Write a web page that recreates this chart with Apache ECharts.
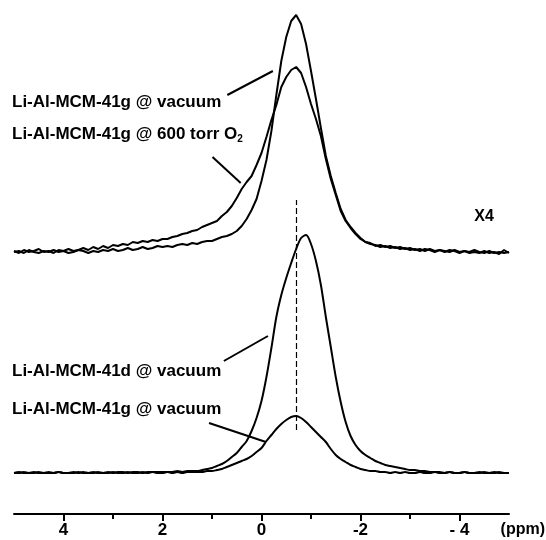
<!DOCTYPE html>
<html>
<head>
<meta charset="utf-8">
<script src="https://cdn.jsdelivr.net/npm/echarts@6/dist/echarts.min.js"></script>
<style>
  html, body { margin: 0; padding: 0; background: #fff; }
  #main { width: 546px; height: 540px; }
</style>
</head>
<body>
<div id="main"></div>
<script>
// chemical shift grid (ppm), read left to right
var ppm = [5.0, 4.9, 4.8, 4.7, 4.6, 4.5, 4.4, 4.3, 4.2, 4.1,
  4.0, 3.9, 3.8, 3.7, 3.6, 3.5, 3.4, 3.3, 3.2, 3.1,
  3.0, 2.9, 2.8, 2.7, 2.6, 2.5, 2.4, 2.3, 2.2, 2.1,
  2.0, 1.9, 1.8, 1.7, 1.6, 1.5, 1.4, 1.3, 1.2, 1.1,
  1.0, 0.9, 0.8, 0.7, 0.6, 0.5, 0.4, 0.3, 0.2, 0.1,
  0.0, -0.1, -0.2, -0.3, -0.4, -0.5, -0.6, -0.7, -0.8, -0.9,
  -1.0, -1.1, -1.2, -1.3, -1.4, -1.5, -1.6, -1.7, -1.8, -1.9,
  -2.0, -2.1, -2.2, -2.3, -2.4, -2.5, -2.6, -2.7, -2.8, -2.9,
  -3.0, -3.1, -3.2, -3.3, -3.4, -3.5, -3.6, -3.7, -3.8, -3.9,
  -4.0, -4.1, -4.2, -4.3, -4.4, -4.5, -4.6, -4.7, -4.8, -4.9, -5.0];

// upper pair (x4), intensities above their own baseline
var gVacuumX4 = [1, 2, 0, 3, 1, 0, 2, 1, 3, 1,
  2, 0, 1, 3, 2, 0, 2, 1, 3, 2,
  4, 2, 3, 5, 3, 4, 6, 4, 5, 7,
  6, 7, 6, 8, 9, 8, 10, 9, 11, 12,
  12, 14, 16, 17, 19, 22, 27, 34, 43, 54,
  72, 93, 122, 158, 192, 216, 232, 238, 229, 209,
  182, 154, 125, 97, 77, 60, 44, 33, 26, 20,
  15, 11, 9, 8, 6, 7, 5, 6, 4, 5,
  3, 4, 2, 4, 3, 1, 3, 2, 1, 3,
  1, 2, 0, 1, 0, 2, 0, 1, -1, 3, 0];
var gO2X4 = [2, 0, 3, 1, 2, 4, 1, 2, 0, 3,
  2, 4, 2, 3, 5, 3, 6, 4, 7, 5,
  8, 7, 9, 8, 11, 10, 12, 11, 13, 12,
  14, 14, 16, 17, 19, 20, 22, 23, 26, 28,
  30, 32, 37, 41, 47, 55, 64, 71, 77, 88,
  100, 116, 133, 148, 166, 176, 183, 186, 180, 166,
  149, 134, 117, 94, 74, 58, 42, 32, 25, 19,
  14, 11, 10, 7, 8, 6, 7, 5, 6, 4,
  5, 3, 4, 2, 4, 2, 3, 1, 3, 2,
  0, 2, 1, 3, 1, 0, 2, 0, 1, 0, 1];

// lower pair
var dVacuum = [0, 1, 0, 0, 1, 0, 0, 1, 0, 1,
  0, 0, 1, 0, 1, 0, 0, 1, 0, 1,
  0, 1, 1, 0, 1, 1, 0, 1, 1, 1,
  1, 1, 1, 2, 1, 2, 2, 2, 3, 4,
  5, 7, 9, 12, 16, 20, 26, 32, 42, 55,
  72, 96, 125, 156, 178, 195, 210, 224, 235, 238,
  229, 212, 188, 156, 126, 96, 71, 51, 37, 28,
  22, 18, 15, 12, 10, 8, 7, 6, 5, 4,
  3, 3, 2, 2, 1, 1, 1, 0, 1, 0,
  0, 1, 0, 0, 1, 0, 0, 1, 0, 0, 0];
var gVacuum = [0, 0, 1, 0, 0, 1, 0, 0, 0, 1,
  0, 0, 0, 1, 0, 0, 1, 0, 0, 0,
  1, 0, 0, 1, 0, 0, 1, 0, 1, 0,
  0, 1, 0, 1, 0, 1, 1, 1, 1, 2,
  2, 3, 4, 6, 8, 10, 12, 14, 17, 21,
  25, 32, 38, 44, 49, 53, 56, 57, 55, 51,
  46, 41, 36, 31, 24, 18, 14, 11, 8, 6,
  4, 3, 2, 2, 1, 1, 0, 1, 0, 1,
  0, 0, 1, 0, 0, 1, 0, 0, 1, 0,
  0, 1, 0, 0, 0, 1, 0, 0, 1, 0, 0];

var upperOffset = 220;   // vertical shift of the x4 pair

var majorTicks = [4, 2, 0, -2, -4];
var majorLabels = ['4', '2', '0', '-2', '- 4'];
var minorTicks = [3, 1, -1, -3];

var peakRef = -0.71;     // dashed reference line

function pairs(vals, off) {
  return ppm.map(function (x, i) { return [x, vals[i] + off]; });
}

var font = '"Liberation Sans", Arial, sans-serif';
var chart = echarts.init(document.getElementById('main'), null, { renderer: 'canvas' });

var lineBase = {
  type: 'line',
  showSymbol: false,
  symbol: 'none',
  silent: true,
  lineStyle: { color: '#000', width: 2 }
};

var option = {
  animation: false,
  backgroundColor: '#fff',
  grid: { left: 14, right: 37, top: 13, bottom: 26 },
  xAxis: [{
    type: 'value',
    inverse: true,
    min: -5,
    max: 5,
    position: 'bottom',
    offset: 0,
    splitLine: { show: false },
    axisLine: { onZero: false, lineStyle: { color: '#000', width: 2 } },
    axisTick: { customValues: majorTicks, length: 7, lineStyle: { color: '#000', width: 2 } },
    axisLabel: {
      customValues: majorTicks,
      margin: 8,
      color: '#000',
      fontWeight: 'bold',
      fontSize: 17,
      fontFamily: font,
      formatter: function (v) { return majorLabels[majorTicks.indexOf(v)]; }
    }
  }, {
    type: 'value',
    inverse: true,
    min: -5,
    max: 5,
    position: 'bottom',
    offset: 0,
    splitLine: { show: false },
    axisLine: { show: false, onZero: false },
    axisTick: { customValues: minorTicks, length: 5, lineStyle: { color: '#000', width: 2 } },
    axisLabel: { show: false }
  }],
  yAxis: { type: 'value', min: -41, max: 460, show: false },
  series: [
    Object.assign({}, lineBase, {
      name: 'Li-Al-MCM-41g @ vacuum (x4)',
      data: pairs(gVacuumX4, upperOffset),
      markLine: {
        silent: true,
        symbol: 'none',
        label: { show: false },
        lineStyle: { color: '#000', width: 2, type: 'solid' },
        data: [
          [{ coord: [0.69, 378] }, { coord: [-0.23, 402] }],
          [{ coord: [0.99, 316] }, { coord: [0.42, 290] }],
          [{ coord: [0.76, 112] }, { coord: [-0.13, 137] }],
          [{ coord: [1.06, 50] }, { coord: [-0.09, 31] }],
          [{ coord: [peakRef, 43], lineStyle: { type: [6, 3], width: 1.2 } },
           { coord: [peakRef, 273] }]
        ]
      }
    }),
    Object.assign({}, lineBase, { name: 'Li-Al-MCM-41g @ 600 torr O2 (x4)', data: pairs(gO2X4, upperOffset) }),
    Object.assign({}, lineBase, { name: 'Li-Al-MCM-41d @ vacuum', smooth: 0.3, data: pairs(dVacuum, 0) }),
    Object.assign({}, lineBase, { name: 'Li-Al-MCM-41g @ vacuum', smooth: 0.3, data: pairs(gVacuum, 0) })
  ],
  graphic: [
    { type: 'text', x: 12, y: 102, style: { text: 'Li-Al-MCM-41g @ vacuum', font: 'bold 17px ' + font, fill: '#000', verticalAlign: 'middle' } },
    { type: 'text', x: 12, y: 134, style: {
        text: '{a|Li-Al-MCM-41g @ 600 torr O}{s|2}',
        verticalAlign: 'middle',
        rich: {
          a: { font: 'bold 17px ' + font, fill: '#000', lineHeight: 20, verticalAlign: 'middle' },
          s: { font: 'bold 10px ' + font, fill: '#000', lineHeight: 10, verticalAlign: 'bottom' }
        }
      } },
    { type: 'text', x: 12, y: 371, style: { text: 'Li-Al-MCM-41d @ vacuum', font: 'bold 17px ' + font, fill: '#000', verticalAlign: 'middle' } },
    { type: 'text', x: 12, y: 409, style: { text: 'Li-Al-MCM-41g @ vacuum', font: 'bold 17px ' + font, fill: '#000', verticalAlign: 'middle' } },
    { type: 'text', x: 484, y: 217, style: { text: 'X4', font: 'bold 16px ' + font, fill: '#000', align: 'center', verticalAlign: 'middle' } },
    { type: 'text', x: 545, y: 530, style: { text: '(ppm)', font: 'bold 16px ' + font, fill: '#000', align: 'right', verticalAlign: 'middle' } }
  ]
};

chart.setOption(option);
</script>
</body>
</html>
